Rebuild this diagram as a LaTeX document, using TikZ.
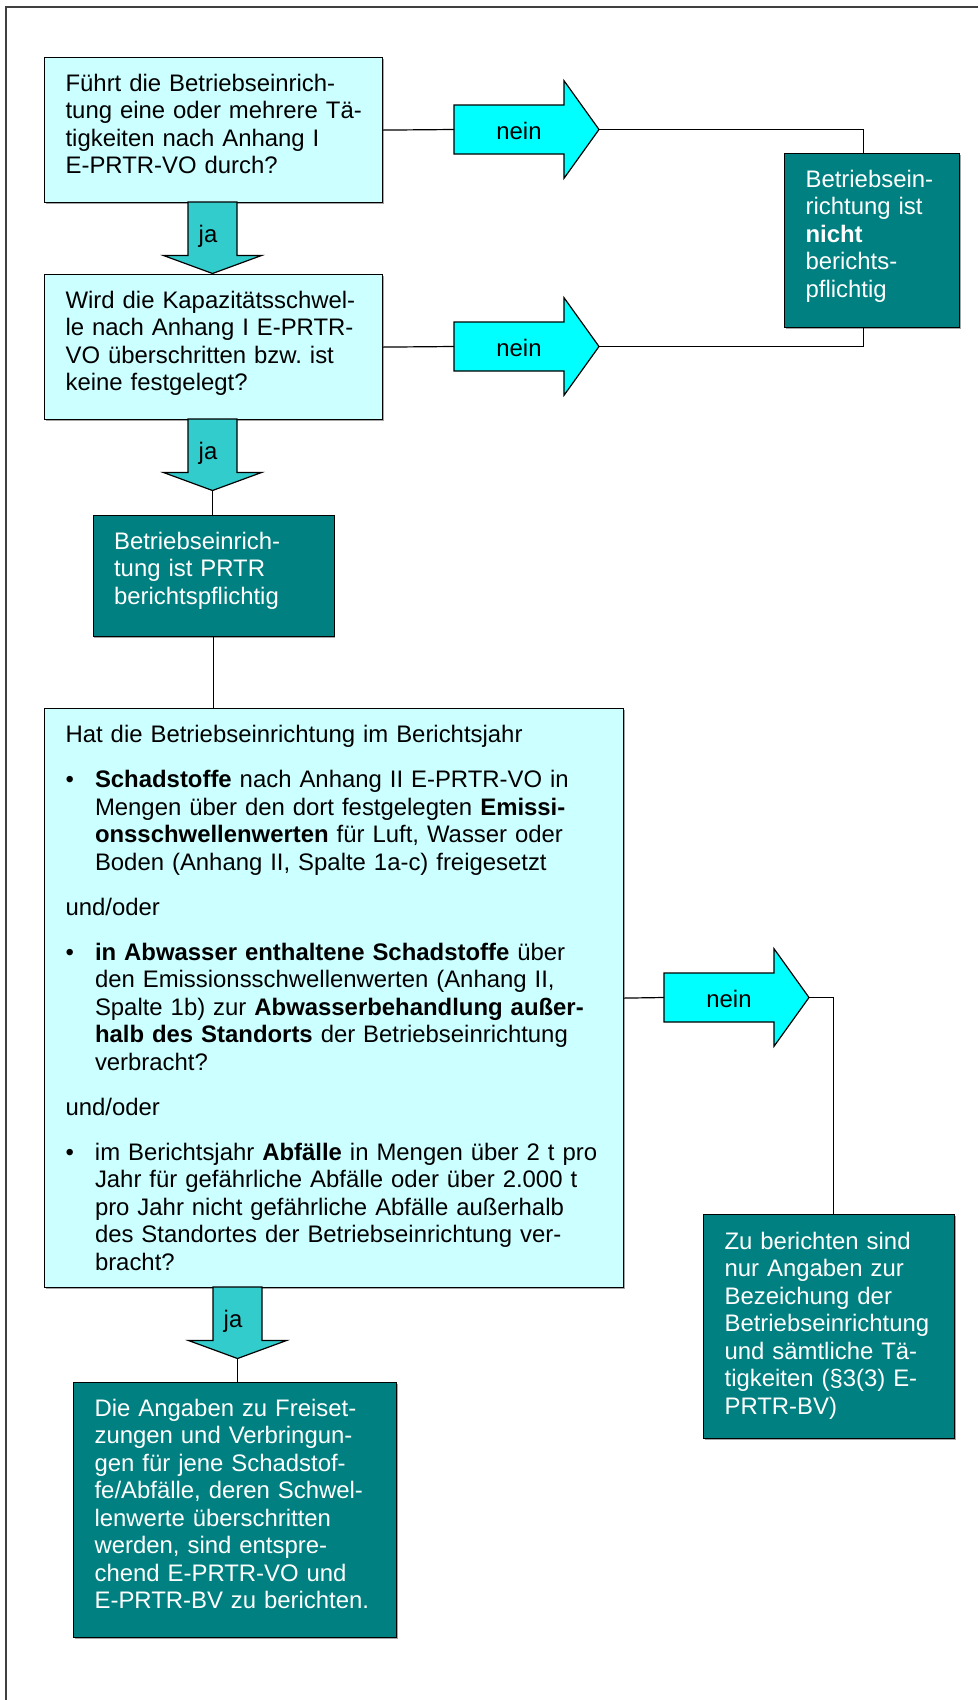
\documentclass[tikz,border=0pt]{standalone}
\usepackage{fontspec}
\setmainfont{Liberation Sans}
\usetikzlibrary{shadows}
\hyphenpenalty=10000
\exhyphenpenalty=10000
\frenchspacing
\definecolor{hellblau}{RGB}{204,255,255}
\definecolor{petrol}{RGB}{0,128,128}
\definecolor{neinfarbe}{RGB}{0,255,255}
\definecolor{jafarbe}{RGB}{51,204,204}
\newcommand{\punkt}{\makebox[29.4pt][l]{\textbullet}}
\newcommand{\einzug}{\hspace*{29.4pt}}
\tikzset{
  box/.style={draw=black, line width=1.2pt, anchor=north west, align=left,
    inner xsep=21pt, inner ysep=0pt, text height=33.5pt,
    font=\fontsize{23.9}{27.5}\selectfont,
    drop shadow={shadow xshift=1.2pt, shadow yshift=-1.2pt, fill=black!35, opacity=1}},
  frage/.style={box, fill=hellblau},
  ergebnis/.style={box, fill=petrol, text=white},
  pfeil/.style={draw=black, line width=1.2pt},
  pfeiltext/.style={font=\fontsize{23.9}{27.5}\selectfont, inner sep=0pt, anchor=base},
  linie/.style={line width=1.2pt}
}

\begin{document}
\begin{tikzpicture}[x=1pt,y=-1pt]
\useasboundingbox (0,0) rectangle (978,1700);
\draw[line width=1.3pt, black!75] (978,7) -- (6,7) -- (6,1700);

\node[frage, text width=296pt, text depth=111.5pt] (frage1) at (44,57)
  {Führt die Betriebseinrich-\\\mbox{tung eine oder mehrere Tä-}\\tigkeiten nach Anhang I\\E-PRTR-VO durch?};
\node[frage, text width=296pt, text depth=111.5pt] (frage2) at (44,274)
  {Wird die Kapazitätsschwel-\\le nach Anhang I E-PRTR-\\VO überschritten bzw.\ ist\\keine festgelegt?};
\node[ergebnis, text width=133pt, text depth=140.5pt] (nicht) at (784,153)
  {Betriebsein-\\richtung ist\\\textbf{nicht}\\berichts-\\pflichtig};
\node[ergebnis, text width=199pt, text depth=87.5pt] (pflichtig) at (92.5,515)
  {Betriebseinrich-\\tung ist PRTR\\berichtspflichtig};
\node[frage, text width=537pt, text height=34pt, text depth=545pt] (frage3) at (44,708)
  {Hat die Betriebseinrichtung im Berichtsjahr\\[17.5pt]
   \punkt\textbf{Schadstoffe} nach Anhang II E-PRTR-VO in\\
   \einzug Mengen über den dort festgelegten \textbf{Emissi-}\\
   \einzug\textbf{onsschwellenwerten} für Luft, Wasser oder\\
   \einzug Boden (Anhang II, Spalte 1a-c) freigesetzt\\[17.5pt]
   und/oder\\[17.5pt]
   \punkt\textbf{in Abwasser enthaltene Schadstoffe} über\\
   \einzug den Emissionsschwellenwerten (Anhang II,\\
   \einzug Spalte 1b) zur \textbf{Abwasserbehandlung außer-}\\
   \einzug\textbf{halb des Standorts} der Betriebseinrichtung\\
   \einzug verbracht?\\[17.5pt]
   und/oder\\[17.5pt]
   \punkt im Berichtsjahr \textbf{Abfälle} in Mengen über 2 t pro\\
   \einzug Jahr für gefährliche Abfälle oder über 2.000 t\\
   \einzug pro Jahr nicht gefährliche Abfälle außerhalb\\
   \einzug des Standortes der Betriebseinrichtung ver-\\
   \einzug bracht?};
\node[ergebnis, text width=209pt, text height=34.5pt, text depth=189.5pt] (zusatz) at (703,1214)
  {Zu berichten sind\\nur Angaben zur\\Bezeichung der\\Betriebseinrichtung\\und sämtliche Tä-\\tigkeiten (§3(3) E-\\PRTR-BV)};
\node[ergebnis, text width=281pt, text depth=221.5pt] (angaben) at (73,1382)
  {Die Angaben zu Freiset-\\zungen und Verbringun-\\gen für jene Schadstof-\\fe/Abfälle, deren Schwel-\\lenwerte überschritten\\werden, sind entspre-\\chend E-PRTR-VO und\\E-PRTR-BV zu berichten.};

\foreach \n/\x/\y in {1/454/129.5, 2/454/346.5, 3/664/997.5}{
  \coordinate (nein\n-ende) at (\x,\y);
  \coordinate (nein\n-spitze) at (\x+145,\y);
  \draw[pfeil, fill=neinfarbe] (\x,\y-24.5) -- ++(110,0) -- ++(0,-24.3) -- (nein\n-spitze)
    -- ++(-35,48.8) -- ++(0,-24.3) -- (\x,\y+24.5) -- cycle;
  \node[pfeiltext] (nein\n) at (\x+65,\y+10) {nein};
}
\foreach \n/\x/\y in {1/212.5/202, 2/212.5/419, 3/237.5/1287}{
  \coordinate (ja\n-ende) at (\x,\y);
  \coordinate (ja\n-spitze) at (\x,\y+71.5);
  \draw[pfeil, fill=jafarbe] (\x-24.5,\y) -- ++(0,53.5) -- ++(-24.5,0) -- (ja\n-spitze)
    -- ++(49,-18) -- ++(-24.5,0) -- (\x+24.5,\y) -- cycle;
  \node[pfeiltext] (ja\n) at (\x-4.5,\y+40) {ja};
}

\draw[linie] (frage1.east) -- (nein1-ende);
\draw[linie] (nein1-spitze) -| ([xshift=-8.5pt]nicht.north);
\draw[linie] (frage2.east) -- (nein2-ende);
\draw[linie] (nein2-spitze) -| ([xshift=-8.5pt]nicht.south);
\draw[linie] (ja2-spitze) -- (ja2-spitze |- pflichtig.north);
\draw[linie] (pflichtig.south) -- (pflichtig.south |- frage3.north);
\draw[linie] (frage3.east) -- (nein3-ende);
\draw[linie] (nein3-spitze) -| ([xshift=4.5pt]zusatz.north);
\draw[linie] (ja3-spitze) -- (ja3-spitze |- angaben.north);
\end{tikzpicture}
\end{document}
